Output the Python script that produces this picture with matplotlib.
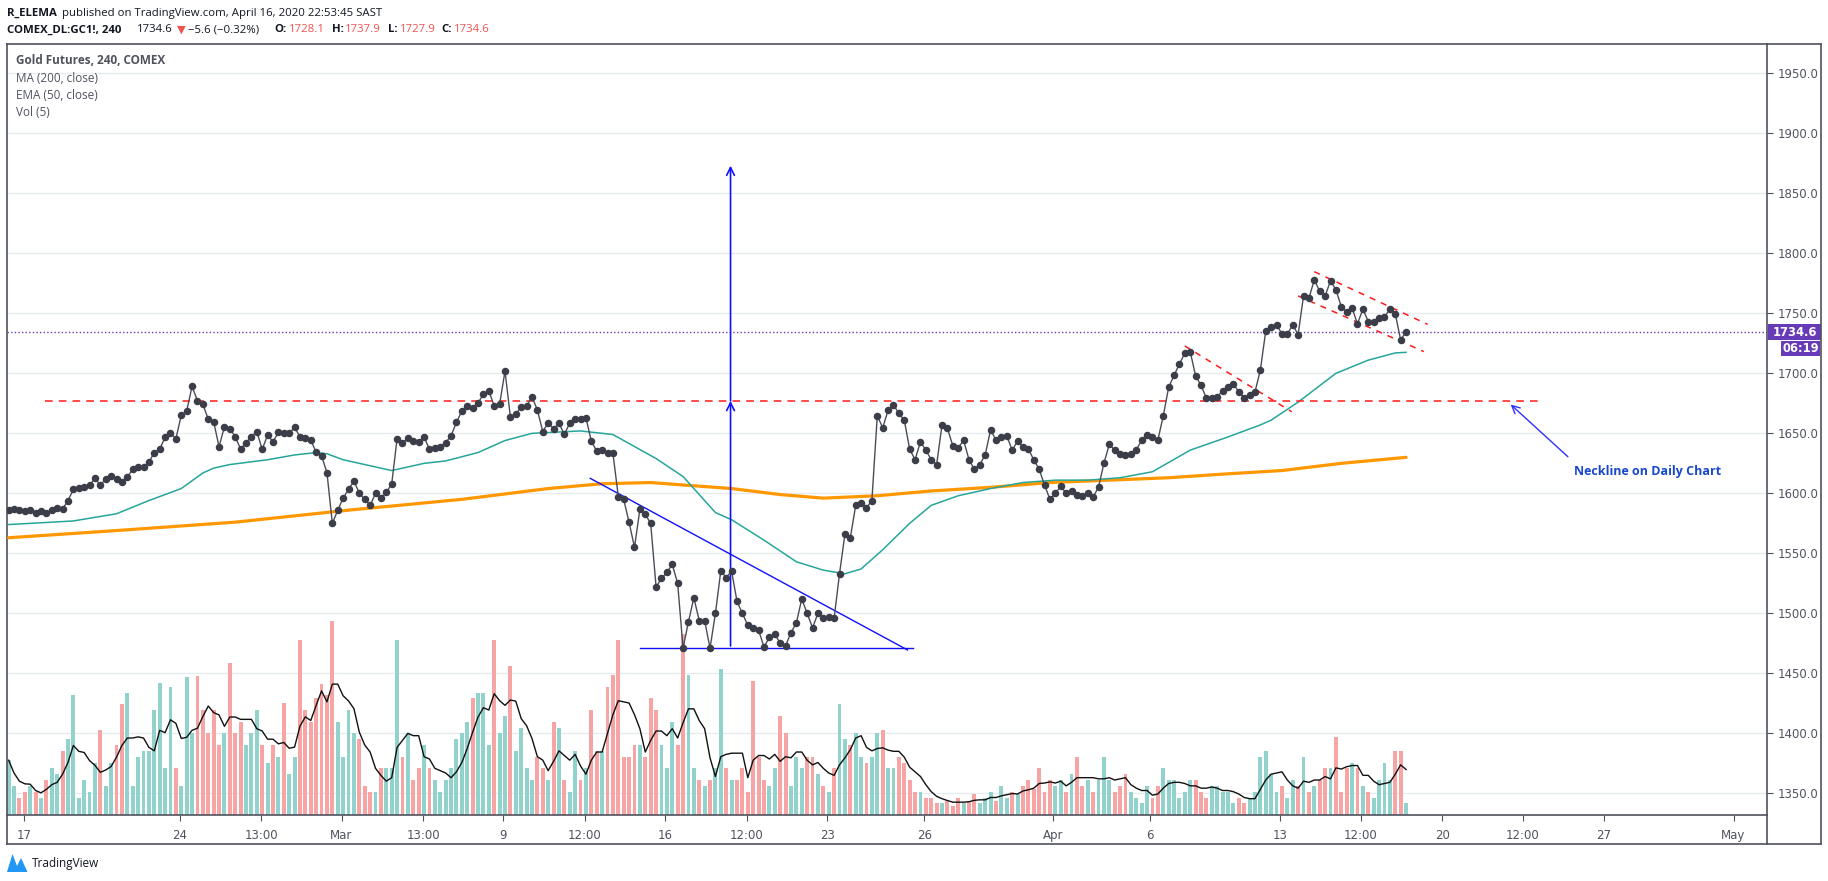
import matplotlib
matplotlib.use('Agg')
import matplotlib.pyplot as plt
import pandas as pd
from matplotlib.lines import Line2D
from matplotlib.patches import Rectangle, Polygon
from matplotlib.ticker import FormatStrFormatter

# ---------------- data ----------------
closes = [
    1586, 1587, 1586, 1585, 1586, 1584, 1585, 1584, 1586, 1588, 1587, 1594,
    1603.3, 1604.1, 1605.5, 1606.6, 1612.5, 1606.9, 1611.9, 1614.7, 1612.2, 1609.1,
    1613.6, 1620.0, 1621.7, 1622.2, 1626.1, 1633.9, 1636.9, 1646.6, 1650.5, 1645.5,
    1665.0, 1668.6, 1689.2, 1677.0, 1674.2, 1661.9, 1659.7, 1638.9, 1655.5, 1653.9,
    1647.2, 1636.9, 1642.2, 1647.2, 1651.4, 1636.6, 1648.6, 1643.0, 1650.8, 1650.0,
    1650.0, 1655.0, 1647.2, 1646.4, 1644.4, 1634.1, 1631.4, 1617.2, 1575, 1586,
    1596, 1603.3, 1610.3, 1600, 1595, 1590, 1600, 1596, 1600.8, 1607.8,
    1645.5, 1641.6, 1646.4, 1643.3, 1642.5, 1647.2, 1636.6, 1638.0, 1638.9, 1642.2,
    1648.0, 1659.1, 1668.6, 1672.8, 1671.1, 1675.0, 1683.0, 1685.5, 1672.8, 1674.2,
    1701.9, 1663.6, 1665.8, 1672.2, 1672.8, 1680.5, 1669.4, 1651.4, 1658.9, 1653.9,
    1658.3, 1649.1, 1658.6, 1661.9, 1661.6, 1663.0, 1643.5, 1635.2, 1636.1, 1633.8,
    1633.6, 1597.2, 1595.0, 1575.8, 1555.0, 1586.6, 1582.5, 1575.0, 1522, 1529.1,
    1534.1, 1540.8, 1525, 1471, 1493, 1513, 1494, 1494, 1471, 1500,
    1535.5, 1529.7, 1535.2, 1510, 1500, 1490, 1488, 1486, 1472, 1480,
    1483, 1475, 1473, 1484, 1492, 1512, 1500, 1488, 1500, 1496,
    1497, 1496, 1533, 1566, 1563, 1590, 1592, 1588, 1594, 1664.7,
    1654.7, 1669.1, 1673.6, 1666.6, 1661.1, 1636.9, 1628, 1643, 1636, 1628,
    1624, 1657, 1654.1, 1639.7, 1638, 1644.1, 1628, 1620, 1624, 1632,
    1653, 1644.4, 1646.6, 1648, 1636, 1643.6, 1638.6, 1636.9, 1628, 1620,
    1607, 1595, 1600, 1606, 1600, 1602, 1599, 1598, 1600, 1597,
    1605, 1625, 1640.8, 1636, 1633, 1632, 1633, 1636, 1644.4, 1648.9,
    1647.2, 1644.4, 1664.4, 1688.3, 1698.3, 1707.8, 1716.7, 1718.0, 1697.8, 1690.0,
    1679.2, 1679.7, 1680.5, 1685.5, 1688.3, 1691.1, 1684.7, 1679.7, 1682.2, 1684.4,
    1702.8, 1735.3, 1738.4, 1740.6, 1732.8, 1732.8, 1740.3, 1732.3, 1764.5, 1762.8,
    1777.8, 1768.4, 1764.5, 1777.0, 1769.7, 1755.6, 1751.1, 1754.5, 1741.1, 1753.6,
    1743.1, 1743.1, 1746.1, 1747.0, 1753.4, 1749.7, 1727.8, 1734.6,
]

volume = [
    47, 25, 15, 20, 25, 20, 15, 30, 40, 35, 55, 65, 103, 15, 30, 20, 45, 73, 25, 45,
    60, 95, 105, 25, 50, 55, 55, 90, 113, 40, 110, 40, 25, 118, 70, 119, 90, 70, 90, 60,
    70, 130, 70, 80, 60, 70, 90, 60, 45, 60, 50, 96, 35, 50, 150, 90, 80, 100, 112, 103,
    166, 80, 50, 90, 70, 65, 25, 20, 20, 40, 40, 40, 150, 50, 70, 30, 40, 60, 40, 30,
    20, 30, 40, 65, 70, 80, 100, 105, 105, 60, 150, 70, 85, 128, 55, 75, 40, 30, 50, 40,
    30, 80, 75, 30, 20, 55, 30, 40, 90, 55, 55, 110, 120, 150, 50, 50, 60, 60, 50, 100,
    90, 60, 40, 80, 60, 155, 120, 40, 30, 25, 30, 40, 125, 40, 30, 30, 40, 20, 115, 50,
    30, 25, 40, 85, 70, 25, 50, 40, 50, 50, 35, 25, 20, 40, 95, 65, 60, 70, 50, 45,
    50, 70, 73, 40, 40, 50, 45, 30, 20, 20, 15, 15, 10,
    10, 12, 8, 15, 10, 12, 18, 10, 15, 20, 12, 25, 15, 20, 18, 25, 30, 22, 40, 20,
    30, 25, 30, 20, 35, 50, 25, 30,
    20, 30, 50, 30, 20, 25, 35, 20, 15, 10, 25, 15, 25, 40, 30, 30, 15, 20, 30, 30,
    20, 15, 25, 25, 20, 20, 10, 15, 10, 15, 20, 50, 55, 35, 20, 25, 15, 30, 25, 50,
    20, 25, 30, 40, 40, 67, 20, 40, 45, 40, 25, 20, 15, 30, 45, 30, 55, 55, 10,
]

ma200_x = [0, 20, 42, 63, 84, 100, 110, 119, 125, 134, 143, 151, 161, 171, 182,
           193, 204, 215, 225, 236, 247, 259]
ma200_y = [1563, 1569, 1576, 1586, 1595, 1604, 1608, 1609, 1607, 1604, 1599, 1596,
           1598, 1602, 1605, 1609, 1611, 1613, 1616, 1619, 1625, 1630]

ema50_x = [0, 12, 20, 26, 32, 36, 38, 41, 48, 53, 57, 59, 62, 71, 77, 81, 87, 92, 97,
           106, 108, 112, 116, 120, 125, 131, 134, 140, 146, 151, 155, 158, 162, 167,
           171, 176, 182, 188, 194, 200, 206, 212, 219, 226, 232, 234, 239, 246, 252,
           257, 259]
ema50_y = [1574, 1577, 1583, 1594, 1604, 1617, 1621, 1624, 1628, 1632, 1634, 1633,
           1628, 1619, 1625, 1627, 1634, 1644, 1650, 1652, 1651, 1649, 1639, 1629,
           1614, 1584, 1578, 1561, 1543, 1536, 1533, 1537, 1553, 1575, 1590, 1598,
           1604, 1609, 1611, 1611, 1613, 1618, 1636, 1647, 1657, 1661, 1676, 1700,
           1711, 1717, 1717.5]

tick_pos = [2.8, 31.7, 46.8, 61.7, 76.8, 91.7, 106.8, 121.7, 136.8, 151.7, 169.7,
            193.6, 211.5, 235.7, 250.6, 265.7, 280.6, 295.7, 319.7]
tick_labels = ['17', '24', '13:00', 'Mar', '13:00', '9', '12:00', '16', '12:00', '23',
               '26', 'Apr', '6', '13', '12:00', '20', '12:00', '27', 'May']
price_ticks = [1350, 1400, 1450, 1500, 1550, 1600, 1650, 1700, 1750, 1800, 1850, 1900, 1950]

last_price = 1734.6
neckline = 1677

# ---------------- figure ----------------
W, H = 1828, 881
fig = plt.figure(figsize=(W / 100, H / 100), dpi=100)
fig.patch.set_facecolor('white')


def fx(px):
    return px / W


def fy(py):
    return 1 - py / H


L, R, T, B = 7, 1767, 44, 815
rect = [fx(L), fy(B), fx(R) - fx(L), fy(T) - fy(B)]
XLIM = (-0.3, 325.9)
YLIM = (1332, 1974.4)

ax_bg = fig.add_axes(rect)
ax_vol = fig.add_axes(rect)
ax = fig.add_axes(rect)

for a in (ax_bg, ax_vol, ax):
    a.set_xlim(*XLIM)
ax_bg.set_ylim(*YLIM)
ax.set_ylim(*YLIM)
ax_bg.axis('off')
ax_vol.axis('off')
ax.patch.set_visible(False)

# grid
for p in price_ticks:
    ax_bg.axhline(p, color='#e6ebef', lw=1.0, zorder=0)

idx = list(range(len(closes)))

# volume
up_c, dn_c = '#92d2cc', '#f6a5a4'
vcolors = [up_c] + [up_c if closes[i] >= closes[i - 1] else dn_c for i in range(1, len(closes))]
ax_vol.bar(idx, volume, width=0.72, color=vcolors, linewidth=0)
vol_ma = pd.Series(volume).rolling(5, min_periods=1).mean()
ax_vol.plot(idx, vol_ma, color='#111111', lw=1.0)
ax_vol.set_ylim(0, 661)

# moving averages
ax.plot(ma200_x, ma200_y, color='#ff9800', lw=2.3, zorder=3, solid_capstyle='round')
ax.plot(ema50_x, ema50_y, color='#26a69a', lw=1.1, zorder=3)

# price
ax.plot(idx, closes, color='#4a4d57', lw=1.0, marker='o', ms=4.4,
        mfc='#3b3e48', mec='#3b3e48', zorder=6)

# current price line
ax.axhline(last_price, color='#673ab7', lw=1.0, ls=(0, (1, 1.6)), zorder=2)

# neckline
red = '#ff1a1a'
ax.plot([6.7, 283.6], [neckline, neckline], color=red, lw=1.1, ls=(0, (5, 4)), zorder=4)

# channels
ax.plot([218, 237.8], [1722.8, 1668], color=red, lw=1.1, ls=(0, (4, 4)), zorder=4)
ax.plot([242, 263], [1784.7, 1740.8], color=red, lw=1.1, ls=(0, (4, 4)), zorder=4)
ax.plot([239, 262.3], [1764.5, 1718.1], color=red, lw=1.1, ls=(0, (4, 4)), zorder=4)

# triangle
blue = '#1010ff'
ax.plot([117, 167.7], [1470.9, 1470.9], color=blue, lw=1.0, zorder=4)
ax.plot([107.8, 166.6], [1612.5, 1469.5], color=blue, lw=1.0, zorder=4)

# measured move arrow
apr = dict(arrowstyle='->', color=blue, lw=1.2, shrinkA=0, shrinkB=0, mutation_scale=14)
ax.annotate('', xy=(133.8, neckline), xytext=(133.8, 1472.8), arrowprops=apr, zorder=4)
ax.annotate('', xy=(133.8, 1873), xytext=(133.8, neckline), arrowprops=apr, zorder=4)

# neckline note
ax.annotate('', xy=(278.4, 1674), xytext=(289, 1630.5),
            arrowprops=dict(arrowstyle='->', color='#3030ff', lw=1.0, shrinkA=0, shrinkB=0,
                            mutation_scale=14))
ax.text(303.7, 1618, 'Neckline on Daily Chart', color='#1848cc', fontsize=9,
        fontweight='bold', family='Open Sans', ha='center', va='center')

# axes styling
frame_c = '#50535e'
for s in ax.spines.values():
    s.set_color(frame_c)
    s.set_linewidth(1.2)
ax.yaxis.tick_right()
ax.set_yticks(price_ticks)
ax.yaxis.set_major_formatter(FormatStrFormatter('%.1f'))
ax.tick_params(axis='y', direction='out', length=4, width=0.8, colors=frame_c,
               labelsize=8.5, pad=4, labelcolor='#50535e')
ax.set_xticks(tick_pos)
ax.set_xticklabels(tick_labels)
ax.tick_params(axis='x', direction='out', length=4, width=0.8, colors=frame_c,
               labelsize=8.5, pad=6, labelcolor='#50535e')

# outer frame (price scale box and time scale box)
def fline(x0, y0, x1, y1, lw=1.2, c=frame_c):
    fig.add_artist(Line2D([fx(x0), fx(x1)], [fy(y0), fy(y1)], transform=fig.transFigure,
                          color=c, lw=lw))

fline(R, T, 1821, T)
fline(1821, T, 1821, 844)
fline(L, 844, 1821, 844)
fline(L, B, L, 844)
fline(R, B, R, 844)

# price label boxes
purple = '#673ab7'
fig.add_artist(Rectangle((fx(1768), fy(340)), 53 / W, 16 / H, transform=fig.transFigure,
                         color=purple, lw=0))
fig.text(fx(1794.5), fy(332), '1734.6', color='white', fontsize=8.3, fontweight='bold',
         ha='center', va='center')
fig.add_artist(Rectangle((fx(1781), fy(356)), 39 / W, 15 / H, transform=fig.transFigure,
                         color=purple, lw=0))
fig.text(fx(1800.5), fy(348.5), '06:19', color='white', fontsize=8.3, fontweight='bold',
         ha='center', va='center')

# header
hdr_c = '#131722'
hred = '#ef5350'
fam = ['Open Sans', 'DejaVu Sans']
fig.text(fx(7), fy(13.3), 'R_ELEMA', color=hdr_c, fontsize=8.2, fontweight='bold', family=fam,
         va='center')
fig.text(fx(62), fy(13.3), 'published on TradingView.com, April 16, 2020 22:53:45 SAST',
         color=hdr_c, fontsize=8.2, family=fam, va='center')
line2 = [
    (7, 'COMEX_DL:GC1!, 240', hdr_c, 'bold'),
    (137, '1734.6', hdr_c, 'normal'),
    (176.5, '▼', hred, 'normal'),
    (188, '−5.6 (−0.32%)', hdr_c, 'normal'),
    (274, 'O:', hdr_c, 'bold'),
    (288.5, '1728.1', hred, 'normal'),
    (331.7, 'H:', hdr_c, 'bold'),
    (345, '1737.9', hred, 'normal'),
    (388.3, 'L:', hdr_c, 'bold'),
    (399.5, '1727.9', hred, 'normal'),
    (441.7, 'C:', hdr_c, 'bold'),
    (454, '1734.6', hred, 'normal'),
]
for x0, s, c, w in line2:
    fig.text(fx(x0), fy(30), s, color=c, fontsize=8.2, fontweight=w, family=fam, va='center')

# legend inside chart
leg_c = '#50535e'
fig.text(fx(15.5), fy(60), 'Gold Futures, 240, COMEX', color=leg_c, fontsize=8.5,
         fontweight='bold', family=fam, va='center')
fig.text(fx(15.5), fy(78), 'MA (200, close)', color=leg_c, fontsize=8.5, family=fam, va='center')
fig.text(fx(15.5), fy(95.7), 'EMA (50, close)', color=leg_c, fontsize=8.5, family=fam, va='center')
fig.text(fx(15.5), fy(113), 'Vol (5)', color=leg_c, fontsize=8.5, family=fam, va='center')

# footer logo
logo = [(7, 872), (12.5, 854), (17, 866), (21, 858), (27.5, 872)]
fig.add_artist(Polygon([(fx(a), fy(b)) for a, b in logo], closed=True,
                       transform=fig.transFigure, color='#2196f3', lw=0))
fig.text(fx(32), fy(863), 'TradingView', color=hdr_c, fontsize=8.5, family=fam, va='center')

fig.savefig('out.png', dpi=100, facecolor='white')
